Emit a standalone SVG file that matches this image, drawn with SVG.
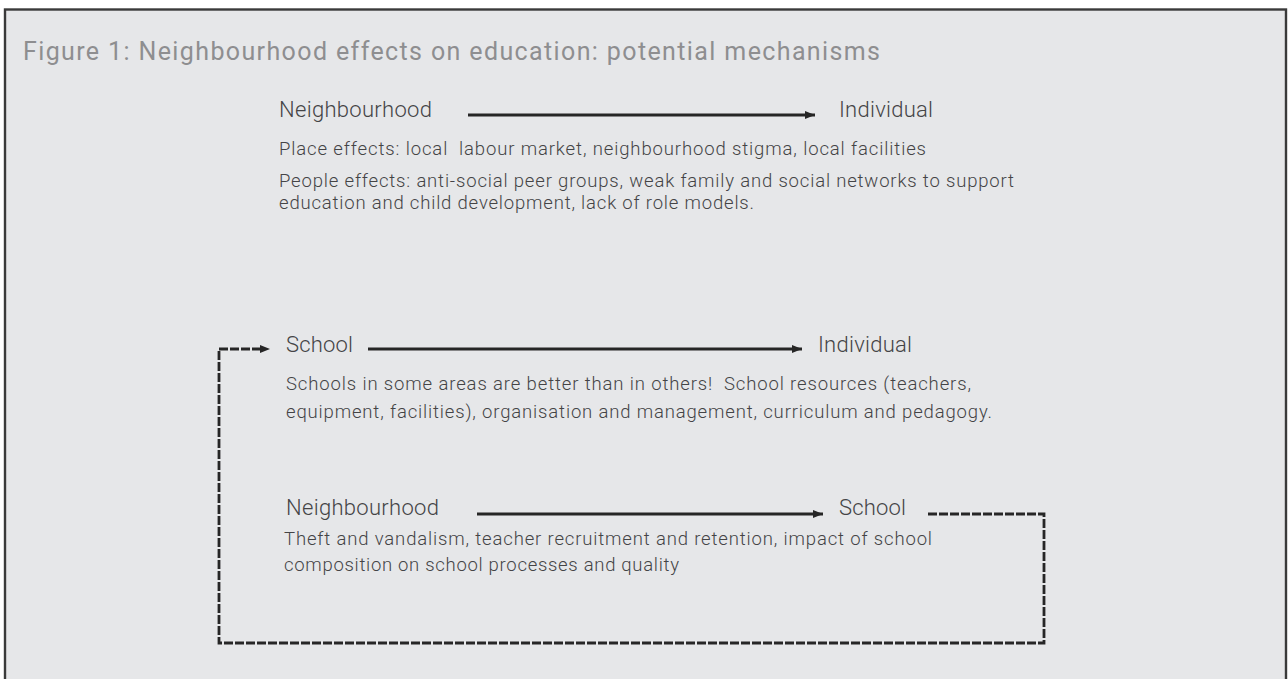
<svg xmlns="http://www.w3.org/2000/svg" width="1288" height="679" viewBox="0 0 1288 679">
<style>
text{white-space:pre}
.title{font-family:Roboto,"Liberation Sans",sans-serif;font-weight:400;font-size:25px;fill:#8e8e90}
.lbl{font-family:Roboto,"Liberation Sans",sans-serif;font-weight:300;font-size:22px;fill:#444446}
.body{font-family:Roboto,"Liberation Sans",sans-serif;font-weight:300;font-size:18.5px;fill:#444446}
.solid{stroke:#262626;stroke-width:2.8;fill:none}
.dash{stroke:#262626;stroke-width:2.8;fill:none;stroke-dasharray:9 2}
</style>
<defs>
<marker id="ah" viewBox="0 0 10 8" refX="10" refY="4" markerWidth="10" markerHeight="8" markerUnits="userSpaceOnUse" orient="auto">
<path d="M0,0 L10,4 L0,8 Z" fill="#262626"/>
</marker>
</defs>
<rect x="0" y="0" width="1288" height="679" fill="#ffffff"/>
<rect x="5" y="9.5" width="1281" height="690" fill="#e6e7e9" stroke="#3a3a3a" stroke-width="2.4"/>
<text class="title" x="23" y="60" textLength="857">Figure 1: Neighbourhood effects on education: potential mechanisms</text>

<g id="connectors">
<line class="solid" x1="468" y1="115" x2="815" y2="115" marker-end="url(#ah)"/>
<line class="solid" x1="368" y1="349" x2="802" y2="349" marker-end="url(#ah)"/>
<line class="solid" x1="477" y1="514" x2="823" y2="514" marker-end="url(#ah)"/>
<polyline class="dash" points="928,514 1044,514 1044,643 219,643 219,349 262,349"/>
<path d="M260,345 L270,349 L260,353 Z" fill="#262626"/>
</g>

<g id="n-neighbourhood-1">
<text class="lbl" x="279" y="116.5" textLength="153">Neighbourhood</text>
</g>
<g id="n-individual-1">
<text class="lbl" x="839" y="116.5" textLength="94">Individual</text>
</g>
<g id="n-text-1">
<text class="body" x="279" y="155" textLength="647">Place effects: local  labour market, neighbourhood stigma, local facilities</text>
<text class="body" x="279" y="187" textLength="735">People effects: anti-social peer groups, weak family and social networks to support</text>
<text class="body" x="279" y="209" textLength="475">education and child development, lack of role models.</text>
</g>

<g id="n-school-2">
<text class="lbl" x="286" y="352" textLength="67">School</text>
</g>
<g id="n-individual-2">
<text class="lbl" x="818" y="352" textLength="94">Individual</text>
</g>
<g id="n-text-2">
<text class="body" x="286" y="390" textLength="685">Schools in some areas are better than in others!  School resources (teachers,</text>
<text class="body" x="286" y="418" textLength="706">equipment, facilities), organisation and management, curriculum and pedagogy.</text>
</g>

<g id="n-neighbourhood-3">
<text class="lbl" x="286" y="515" textLength="153">Neighbourhood</text>
</g>
<g id="n-school-3">
<text class="lbl" x="839" y="515" textLength="67">School</text>
</g>
<g id="n-text-3">
<text class="body" x="284" y="545" textLength="648">Theft and vandalism, teacher recruitment and retention, impact of school</text>
<text class="body" x="284" y="571" textLength="395">composition on school processes and quality</text>
</g>
</svg>
